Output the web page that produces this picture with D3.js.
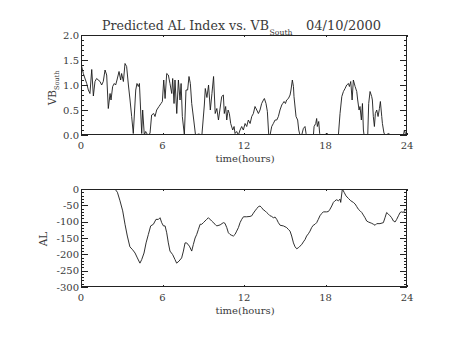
<!DOCTYPE html>
<html>
<head>
<meta charset="utf-8">
<script src="https://cdn.jsdelivr.net/npm/d3@7"></script>
<style>
  html, body { margin: 0; padding: 0; background: #fff; }
  svg { display: block; }
  text { font-family: "DejaVu Serif", serif; fill: #3a3a3a; }
</style>
</head>
<body>
<svg id="chart" width="454" height="341"></svg>
<script>
// Southward IMF-driven coupling (VB_South) and predicted AL index, 04/10/2000
const vbHours = [0,0.17,0.42,0.54,0.66,0.79,0.91,1.03,1.15,1.4,1.52,1.64,1.77,1.89,2.01,2.14,2.21,2.33,2.45,2.55,2.65,2.8,2.92,2.99,3.12,3.24,3.36,3.49,3.61,3.73,3.85,4.03,4.12,4.22,4.3,4.47,4.54,4.66,4.76,4.91,5.08,5.2,5.35,5.45,5.57,5.74,5.89,5.99,6.09,6.19,6.31,6.43,6.55,6.68,6.75,6.85,6.92,7.05,7.17,7.29,7.37,7.46,7.61,7.73,7.85,7.95,8.05,8.15,8.3,8.43,8.67,8.9,9.08,9.15,9.27,9.39,9.52,9.64,9.76,9.88,10.0,10.12,10.36,10.48,10.55,10.65,10.73,10.83,10.92,11.02,11.17,11.27,11.34,11.46,11.59,11.71,11.83,11.95,12.08,12.2,12.32,12.45,12.57,12.69,12.81,12.94,13.06,13.18,13.3,13.43,13.5,13.62,13.72,13.82,13.92,14.04,14.16,14.29,14.41,14.53,14.65,14.78,14.85,14.95,15.05,15.14,15.27,15.39,15.46,15.56,15.64,15.68,15.83,15.95,16.03,16.12,16.25,16.37,16.49,16.57,16.67,17.11,17.16,17.28,17.35,17.4,17.5,17.57,17.67,17.97,18.04,18.14,18.24,18.95,19.07,19.2,19.32,19.44,19.56,19.69,19.76,19.86,19.96,20.05,20.18,20.3,20.37,20.47,20.54,20.64,20.72,20.79,20.84,21.11,21.18,21.28,21.4,21.45,21.52,21.6,21.67,21.77,21.87,21.97,22.04,22.14,22.19,22.31,22.46,22.63,22.81,23.74,23.81,23.88,23.98];
const vbSouth = [1.43,1.23,1.03,0.9,0.83,1.31,0.78,1.07,1.13,1.07,1.0,1.07,1.3,1.2,0.53,0.83,0.7,0.97,1.03,1.0,1.1,1.27,1.1,1.23,1.07,1.43,1.37,1.0,0.7,0.37,0.03,0.9,1.03,0.97,1.03,0.03,0.5,0,0.07,0,0.03,0.4,0.43,0.37,0.5,0.57,0.63,0.67,1.1,0.73,1.23,1.2,1.03,0.83,1.13,0.63,1.1,0.43,1.1,0.7,1.03,0.37,0,0.9,0.9,1.17,1.03,0.63,0.3,0,0.02,0,0.6,0.93,0.75,1.0,0.5,0.83,1.17,0.43,0.53,0.3,0.77,0.8,0.43,0.57,0.3,0.5,0.43,0.23,0.1,0.17,0.03,0.07,0,0.1,0.17,0.1,0.23,0.17,0.3,0.23,0.37,0.43,0.57,0.5,0.43,0.5,0.63,0.7,0.73,0.63,0.47,0,0,0.17,0.23,0.3,0.3,0.37,0.5,0.6,0.63,0.67,0.63,0.7,0.73,0.8,0.9,1.1,0.97,0.77,0.37,0.3,0.1,0,0,0.13,0.17,0.03,0,0,0.17,0.23,0.33,0.17,0.27,0.03,0,0,0.03,0.03,0,0,0.43,0.77,0.87,0.93,1.0,1.03,0.97,1.07,0.7,1.1,0.97,0.87,0.7,0.5,0.57,0.3,0.63,0.1,0,0,0.63,0.87,0.77,0.7,0.37,0.17,0.43,0.5,0.37,0.53,0.67,0.37,0.23,0.03,0,0.03,0,0,0.1,0.03,0];

const alHours = [2.4,2.5,2.68,2.87,3.07,3.24,3.41,3.6,3.8,3.98,4.15,4.34,4.47,4.64,4.79,4.96,5.13,5.33,5.52,5.7,5.82,5.94,6.07,6.19,6.31,6.43,6.55,6.75,6.92,7.04,7.21,7.41,7.54,7.66,7.78,7.98,8.15,8.27,8.4,8.52,8.64,8.77,8.89,9.01,9.25,9.38,9.62,9.87,9.99,10.24,10.48,10.6,10.73,10.85,10.97,11.1,11.22,11.34,11.46,11.59,11.71,11.83,11.96,12.2,12.44,12.57,12.69,12.81,12.94,13.06,13.18,13.3,13.43,13.55,13.67,13.8,13.92,14.04,14.16,14.29,14.41,14.53,14.66,14.9,15.14,15.27,15.39,15.51,15.64,15.76,15.88,16.0,16.12,16.25,16.37,16.49,16.61,16.74,16.86,16.98,17.1,17.23,17.35,17.47,17.59,17.72,17.84,18.08,18.21,18.33,18.46,18.58,18.7,18.82,18.95,19.07,19.12,19.24,19.37,19.51,19.69,19.86,20.05,20.18,20.3,20.42,20.55,20.67,20.79,20.91,21.03,21.16,21.28,21.4,21.53,21.65,21.77,22.01,22.26,22.38,22.5,22.63,22.75,22.87,23.0,23.12,23.24,23.37,23.49,23.61,23.73,23.86,23.98];
const alIndex = [8,0,-10,-36,-67,-108,-144,-177,-186,-196,-211,-227,-216,-196,-165,-139,-113,-108,-93,-93,-88,-103,-113,-113,-134,-165,-190,-201,-216,-227,-221,-211,-190,-165,-165,-175,-190,-170,-150,-139,-124,-108,-108,-103,-93,-88,-98,-108,-113,-110,-103,-105,-118,-134,-139,-142,-144,-139,-129,-118,-103,-93,-85,-85,-84,-82,-74,-67,-60,-54,-52,-57,-64,-67,-72,-77,-82,-84,-88,-86,-93,-103,-111,-113,-118,-124,-129,-144,-165,-177,-183,-180,-175,-170,-162,-155,-144,-137,-129,-118,-111,-108,-103,-93,-82,-75,-70,-70,-69,-62,-52,-41,-36,-33,-36,-31,-41,0,-10,-21,-29,-36,-41,-46,-54,-62,-67,-72,-80,-88,-98,-101,-103,-105,-108,-111,-106,-106,-103,-88,-72,-77,-82,-88,-98,-101,-93,-82,-72,-70,-72,-64,-62];

// Axis ticks
const hourTicks = [0, 6, 12, 18, 24];
const hourTickLabels = ["0", "6", "12", "18", "24"];
const vbTicks = [0, 0.5, 1.0, 1.5, 2.0];
const vbTickLabels = ["0.0", "0.5", "1.0", "1.5", "2.0"];
const alTicks = [0, -50, -100, -150, -200, -250, -300];
const alTickLabels = ["0", "-50", "-100", "-150", "-200", "-250", "-300"];

const svg = d3.select("#chart");
svg.append("rect").attr("width", 454).attr("height", 341).attr("fill", "#fff");

const plotLeft = 81, plotRight = 407;
const x = d3.scaleLinear().domain([0, 24]).range([plotLeft, plotRight]);

function panel(cfg) {
  const y = d3.scaleLinear().domain(cfg.domain).range([cfg.bottom, cfg.top]);
  const g = svg.append("g");
  const clipId = "clip-" + cfg.id;
  svg.append("clipPath").attr("id", clipId)
    .append("rect").attr("x", plotLeft).attr("y", cfg.top)
    .attr("width", plotRight - plotLeft).attr("height", cfg.bottom - cfg.top);

  // data line
  const line = d3.line().x(d => x(d[0])).y(d => y(d[1]));
  g.append("path")
    .datum(d3.zip(cfg.hours, cfg.values))
    .attr("clip-path", `url(#${clipId})`)
    .attr("d", line)
    .attr("fill", "none").attr("stroke", "#1a1a1a").attr("stroke-width", 0.9)
    .attr("stroke-linejoin", "round");

  const h = cfg.bottom - cfg.top, w = plotRight - plotLeft;
  const xMaj = 0.02 * h, yMaj = 0.02 * w;
  const axis = g.append("g").attr("stroke", "#222").attr("stroke-width", 1).attr("shape-rendering", "crispEdges");

  // x ticks (bottom + top, inward)
  const xMinor = d3.range(0, 24.001, 1.2);
  xMinor.forEach(t => {
    const isMaj = hourTicks.some(m => Math.abs(m - t) < 1e-6);
    const len = isMaj ? xMaj : xMaj / 2;
    const px = Math.round(x(t)) + 0.5;
    axis.append("line").attr("x1", px).attr("x2", px).attr("y1", cfg.bottom).attr("y2", cfg.bottom - len);
    axis.append("line").attr("x1", px).attr("x2", px).attr("y1", cfg.top).attr("y2", cfg.top + len);
  });
  // y ticks (left + right, inward)
  const [d0, d1] = cfg.domain;
  const yMinor = d3.range(0, Math.round((d1 - d0) / cfg.minor) + 1).map(i => d0 + i * cfg.minor);
  yMinor.forEach(v => {
    const isMaj = cfg.ticks.some(m => Math.abs(m - v) < 1e-6);
    const len = isMaj ? yMaj : yMaj / 2;
    const py = Math.round(y(v)) + 0.5;
    axis.append("line").attr("x1", plotLeft).attr("x2", plotLeft + len).attr("y1", py).attr("y2", py);
    axis.append("line").attr("x1", plotRight).attr("x2", plotRight - len).attr("y1", py).attr("y2", py);
  });
  // frame
  axis.append("rect").attr("x", plotLeft + 0.5).attr("y", cfg.top + 0.5)
    .attr("width", w - 1).attr("height", h - 1).attr("fill", "none");

  // tick labels
  hourTicks.forEach((t, i) => {
    g.append("text").attr("x", x(t)).attr("y", cfg.bottom + 10)
      .attr("dy", "0.35em").attr("text-anchor", "middle")
      .attr("font-size", 10).text(hourTickLabels[i]);
  });
  cfg.ticks.forEach((v, i) => {
    g.append("text").attr("x", plotLeft - 2).attr("y", y(v))
      .attr("dy", "0.35em").attr("text-anchor", "end")
      .attr("font-size", 10).text(cfg.tickLabels[i]);
  });
  g.append("text").attr("x", (plotLeft + plotRight) / 2 + 1).attr("y", cfg.bottom + 23)
    .attr("dy", "0.35em").attr("text-anchor", "middle")
    .attr("font-size", 10).text("time(hours)");
  return { g, y };
}

panel({ id: "vb", top: 35, bottom: 135, domain: [0, 2], ticks: vbTicks, tickLabels: vbTickLabels,
  minor: 0.1, hours: vbHours, values: vbSouth });
panel({ id: "al", top: 189, bottom: 287, domain: [-300, 0], ticks: alTicks, tickLabels: alTickLabels,
  minor: 10, hours: alHours, values: alIndex });

// Y axis titles
const vbLab = svg.append("text").attr("transform", "translate(56,88) rotate(-90)")
  .attr("text-anchor", "middle").attr("font-size", 10.5);
vbLab.append("tspan").text("VB");
vbLab.append("tspan").attr("font-size", 6.5).attr("dy", 3).text("South");

svg.append("text").attr("transform", "translate(47,239) rotate(-90)")
  .attr("text-anchor", "middle").attr("font-size", 10.5).text("AL");

// Title
svg.append("text").attr("x", 102).attr("y", 30).attr("font-size", 12.5)
  .attr("textLength", 167).attr("lengthAdjust", "spacingAndGlyphs")
  .text("Predicted AL Index vs. VB");
svg.append("text").attr("x", 269.5).attr("y", 35).attr("font-size", 7.5)
  .attr("textLength", 23).attr("lengthAdjust", "spacingAndGlyphs").text("South");
svg.append("text").attr("x", 306).attr("y", 30).attr("font-size", 12.5)
  .attr("textLength", 75).attr("lengthAdjust", "spacingAndGlyphs").text("04/10/2000");
</script>
</body>
</html>
